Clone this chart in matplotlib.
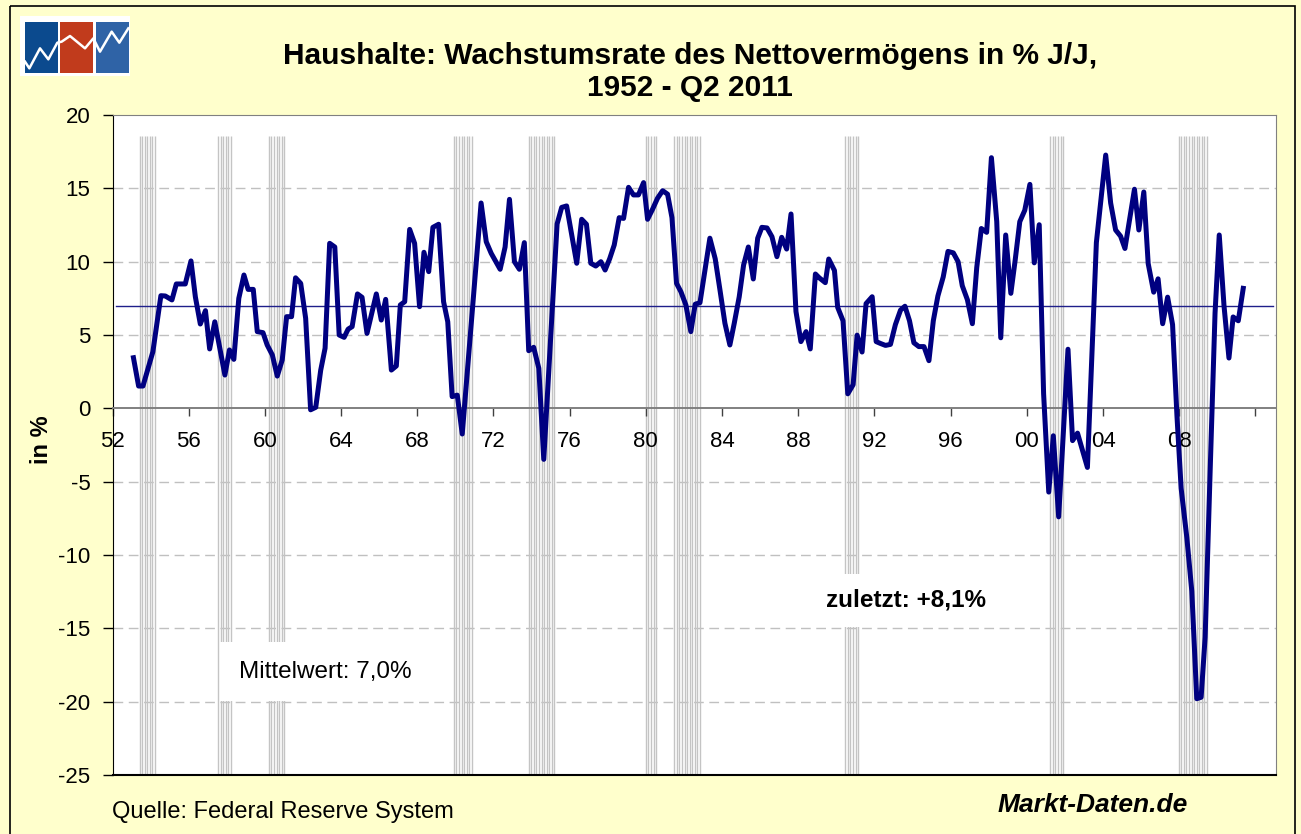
import numpy as np
import matplotlib
matplotlib.use("Agg")
import matplotlib.pyplot as plt
from matplotlib.patches import Rectangle

plt.rcParams['font.family'] = ['Liberation Sans', 'DejaVu Sans']
plt.rcParams['axes.unicode_minus'] = False

# Wachstumsrate Nettovermoegen (in % J/J)
years = [1953.1, 1953.37, 1953.6, 1954.12, 1954.54, 1954.77, 1955.12, 1955.35, 1955.82, 1956.12,
         1956.35, 1956.61, 1956.88, 1957.1, 1957.37, 1957.9, 1958.14, 1958.37, 1958.63, 1958.9,
         1959.12, 1959.39, 1959.6, 1959.9, 1960.12, 1960.39, 1960.65, 1960.91, 1961.14, 1961.4,
         1961.61, 1961.88, 1962.14, 1962.4, 1962.67, 1962.93, 1963.16, 1963.4, 1963.67, 1963.9,
         1964.16, 1964.37, 1964.58, 1964.86, 1965.1, 1965.36, 1965.85, 1966.11, 1966.34, 1966.64,
         1966.9, 1967.11, 1967.34, 1967.6, 1967.86, 1968.12, 1968.35, 1968.6, 1968.82, 1969.12,
         1969.38, 1969.6, 1969.83, 1970.1, 1970.36, 1971.35, 1971.62, 1971.88, 1972.35, 1972.61,
         1972.84, 1973.1, 1973.36, 1973.62, 1973.85, 1974.11, 1974.38, 1974.64, 1975.34, 1975.58,
         1975.84, 1976.37, 1976.63, 1976.88, 1977.11, 1977.37, 1977.64, 1977.86, 1978.1, 1978.34,
         1978.6, 1978.83, 1979.09, 1979.35, 1979.61, 1979.88, 1980.09, 1980.35, 1980.61, 1980.88,
         1981.14, 1981.37, 1981.61, 1981.84, 1982.1, 1982.36, 1982.59, 1982.84, 1983.12, 1983.36,
         1983.64, 1983.89, 1984.15, 1984.41, 1984.64, 1984.9, 1985.13, 1985.38, 1985.64, 1985.87,
         1986.09, 1986.36, 1986.62, 1986.88, 1987.13, 1987.39, 1987.62, 1987.88, 1988.14, 1988.41,
         1988.63, 1988.9, 1989.1, 1989.42, 1989.6, 1989.9, 1990.07, 1990.35, 1990.6, 1990.88,
         1991.09, 1991.35, 1991.56, 1991.88, 1992.09, 1992.32, 1992.58, 1992.84, 1993.1, 1993.37,
         1993.6, 1993.84, 1994.07, 1994.33, 1994.6, 1994.86, 1995.09, 1995.33, 1995.61, 1995.86,
         1996.14, 1996.39, 1996.61, 1996.88, 1997.14, 1997.37, 1997.61, 1997.89, 1998.14, 1998.42,
         1998.63, 1998.89, 1999.16, 1999.39, 1999.63, 1999.89, 2000.16, 2000.39, 2000.65, 2000.88,
         2001.15, 2001.39, 2001.67, 2002.16, 2002.4, 2002.66, 2002.92, 2003.18, 2003.65, 2003.91,
         2004.14, 2004.4, 2004.66, 2004.92, 2005.15, 2005.65, 2005.88, 2006.14, 2006.37, 2006.66,
         2006.89, 2007.13, 2007.39, 2007.65, 2007.88, 2008.1, 2008.4, 2008.66, 2008.92, 2009.15,
         2009.36, 2009.62, 2009.88, 2010.1, 2010.35, 2010.61, 2010.83, 2011.1, 2011.36]
growth = [3.45, 1.52, 1.52, 3.86, 7.68, 7.66, 7.39, 8.48, 8.48, 10.05,
          7.6, 5.75, 6.66, 4.05, 5.9, 2.27, 3.98, 3.34, 7.5, 9.09,
          8.11, 8.11, 5.23, 5.16, 4.32, 3.64, 2.2, 3.3, 6.25, 6.25,
          8.9, 8.52, 6.14, -0.1, 0.07, 2.6, 4.1, 11.25, 11.0, 5.0,
          4.84, 5.4, 5.57, 7.8, 7.57, 5.11, 7.8, 6.02, 7.43, 2.61,
          2.89, 7.05, 7.27, 12.2, 11.25, 6.93, 10.64, 9.32, 12.34, 12.55,
          7.27, 5.9, 0.8, 0.9, -1.75, 14.0, 11.36, 10.57, 9.48, 11.0,
          14.25, 10.0, 9.48, 11.3, 3.93, 4.16, 2.73, -3.48, 12.57, 13.7,
          13.8, 9.89, 12.89, 12.55, 9.89, 9.7, 10.0, 9.43, 10.2, 11.14,
          13.0, 12.95, 15.07, 14.55, 14.55, 15.39, 12.89, 13.57, 14.32, 14.84,
          14.6, 13.0, 8.52, 7.95, 7.05, 5.23, 7.1, 7.2, 9.55, 11.6,
          10.2, 8.07, 5.8, 4.32, 5.8, 7.6, 9.77, 11.0, 8.82, 11.6,
          12.34, 12.3, 11.7, 10.34, 11.66, 10.86, 13.25, 6.6, 4.55, 5.23,
          4.05, 9.16, 8.9, 8.57, 10.18, 9.4, 6.88, 5.97, 0.99, 1.61,
          4.99, 3.84, 7.14, 7.61, 4.55, 4.42, 4.29, 4.36, 5.71, 6.7,
          6.96, 5.97, 4.47, 4.21, 4.21, 3.25, 5.97, 7.66, 8.96, 10.7,
          10.6, 10.0, 8.36, 7.4, 5.77, 9.6, 12.26, 12.0, 17.09, 12.73,
          4.81, 11.82, 7.84, 10.13, 12.73, 13.5, 15.27, 9.92, 12.52, 1.0,
          -5.71, -1.87, -7.4, 4.03, -2.2, -1.69, -2.86, -4.03, 11.3, 14.5,
          17.27, 14.0, 12.16, 11.74, 10.9, 14.94, 12.16, 14.75, 9.87, 7.92,
          8.83, 5.77, 7.58, 5.71, -0.5, -5.45, -8.83, -12.47, -19.8, -19.7,
          -15.6, -4.4, 6.5, 11.82, 7.0, 3.43, 6.23, 5.97, 8.18]

mean_value = 7.0
last_value = 8.1

# Rezessionen (NBER), Beginn / Ende
rec_start = [1953.42, 1957.54, 1960.21, 1969.92, 1973.85, 1980.0, 1981.49, 1990.47, 2001.23, 2007.97]
rec_end = [1954.33, 1958.28, 1961.12, 1970.88, 1975.2, 1980.56, 1982.89, 1991.23, 2001.97, 2009.53]

tick_years = list(range(1952, 2013, 4))
tick_labels = ["%02d" % (y % 100) if y < 2012 else "" for y in tick_years]

W, H = 1301, 834
fig = plt.figure(figsize=(W / 100, H / 100), dpi=100, facecolor='#FFFFCC')

# background layer: border + logo (pixel coords)
bg = fig.add_axes([0, 0, 1, 1], zorder=-5)
bg.set_xlim(0, W)
bg.set_ylim(H, 0)
bg.axis('off')
bg.add_patch(Rectangle((10, 6), 1285, 840, fill=False, edgecolor='black', lw=1.2))
bg.add_patch(Rectangle((20, 16), 110, 60, facecolor='white', edgecolor='none'))
for x0, c in [(25, '#0B4A8E'), (60, '#C13B1C'), (96, '#2F63A6')]:
    bg.add_patch(Rectangle((x0, 22), 33, 51, facecolor=c, edgecolor='none'))
zx = np.array([75, 88, 120, 145, 172, 185, 210, 255, 280, 300, 335, 358, 385]) / 3
zy = np.array([185, 205, 145, 178, 128, 125, 108, 145, 115, 155, 95, 128, 85]) / 3
bg.plot(zx, zy, color='white', lw=1.8)

ax = fig.add_axes([112.5 / W, 1 - 775 / H, (1276 - 112.5) / W, (775 - 115) / H])
ax.set_facecolor('white')
ax.set_xlim(1952, 2013.08)
ax.set_ylim(-25, 20)

# recession bands as thin grey stripes
for s, e in zip(rec_start, rec_end):
    xs = np.arange(s, e + 0.01, 0.135)
    ax.vlines(xs, -25, 18.56, color='#C4C4C4', lw=1.0, zorder=1)

for g in [15, 10, 5, -5, -10, -15, -20]:
    ax.axhline(g, color='#C0C0C0', lw=1.0, dashes=(7, 4), zorder=0.5)

ax.axhline(mean_value, xmin=0.003, xmax=0.997, color='#1F1F8A', lw=1.0, zorder=2)
ax.plot(years, growth, color='#000080', lw=3.6, solid_joinstyle='round', zorder=4)

ax.spines['bottom'].set_position(('data', 0))
ax.spines['bottom'].set_color('#808080')
ax.spines['bottom'].set_linewidth(1.4)
ax.spines['top'].set_color('#808080')
ax.spines['right'].set_color('#808080')
ax.spines['left'].set_color('black')
ax.axhline(-25, color='black', lw=1.5, clip_on=False, zorder=5)

ax.set_yticks(range(-25, 21, 5))
ax.set_xticks(tick_years)
ax.set_xticklabels(tick_labels)
ax.tick_params(axis='y', direction='out', length=7, width=1, pad=9, labelsize=16, colors='black')
ax.tick_params(axis='x', direction='out', length=6, width=1, pad=10, labelsize=16,
               color='#404040', labelcolor='black')
fig.text(42 / W, 1 - 440 / H, 'in %', rotation=90, ha='center', va='center',
         fontsize=17, fontweight='bold')

ax.text(1963.15, -17.95, 'Mittelwert: 7,0%', fontsize=17.5, ha='center', va='center', zorder=3,
        bbox=dict(boxstyle='square,pad=0.75', facecolor='white', edgecolor='none'))
ax.text(1993.68, -13.1, 'zuletzt: +8,1%', fontsize=17.5, fontweight='bold', ha='center', va='center',
        zorder=3, bbox=dict(boxstyle='square,pad=0.6', facecolor='white', edgecolor='none'))

fig.text(690 / W, 1 - 72 / H, 'Haushalte: Wachstumsrate des Nettovermögens in % J/J,\n1952 - Q2 2011',
         ha='center', va='center', fontsize=21.5, fontweight='bold', linespacing=1.15)
fig.text(112 / W, 1 - 812 / H, 'Quelle: Federal Reserve System', ha='left', va='center', fontsize=17)
fig.text(1093 / W, 1 - 805 / H, 'Markt-Daten.de', ha='center', va='center', fontsize=19,
         fontweight='bold', style='italic')

fig.savefig('out.png', dpi=100, facecolor=fig.get_facecolor())
